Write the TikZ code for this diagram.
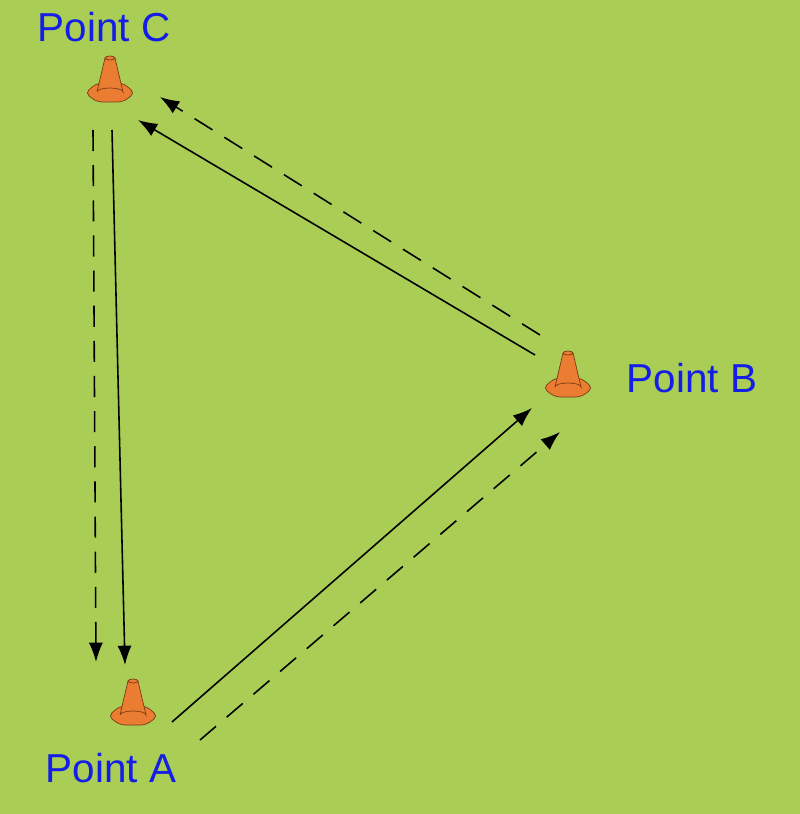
\documentclass[tikz,border=0pt]{standalone}
\usepackage{fontspec}
\setmainfont{Liberation Sans}
\usetikzlibrary{arrows.meta}
\definecolor{grass}{RGB}{170,205,85}
\definecolor{conefill}{RGB}{235,125,50}
\definecolor{coneline}{RGB}{120,60,20}
\definecolor{labelblue}{RGB}{20,30,230}
\tikzset{
  label/.style={text=labelblue, font=\fontsize{23}{27}\selectfont},
  run/.style={-{Latex[length=11pt, width=8pt]}, line width=0.9pt},
  cone/.pic={
    \draw[coneline, fill=conefill, rounded corners=3] (-25,8)--(-13,-2)--(13,-2)--(25,8)--(13,17)--(-13,17)--cycle;
    \draw[coneline, fill=conefill] (-13,7)--(-5,-27)--(5,-27)--(13,7) arc[start angle=0, end angle=-180, x radius=13, y radius=4];
    \draw[coneline, fill=conefill] (0,-27) ellipse[x radius=5, y radius=2];
  }
}
\begin{document}
\begin{tikzpicture}[x=0.02cm, y=-0.02cm]
\fill[grass] (0,0) rectangle (800,814);

% cones
\pic at (110,85) {cone};
\pic at (568,380) {cone};
\pic at (133,708) {cone};

\node[label] (c) at (104,27) {Point C};
\node[label] (b) at (692,378) {Point B};
\node[label] (a) at (111,768) {Point A};

% C to A
\coordinate (ca1) at (112,130); \coordinate (ca2) at (125,665);
\coordinate (ca3) at (93,130);  \coordinate (ca4) at (96,662);
\draw[run] (ca1)--(ca2);
\draw[run, dash pattern=on 12pt off 8pt] (ca3)--(ca4);

% B to C
\coordinate (bc1) at (535,355); \coordinate (bc2) at (138,120);
\coordinate (bc3) at (540,335); \coordinate (bc4) at (160,97);
\draw[run] (bc1)--(bc2);
\draw[run, dash pattern=on 12pt off 8pt] (bc3)--(bc4);

% A to B
\coordinate (ab1) at (172,722); \coordinate (ab2) at (532,408);
\coordinate (ab3) at (200,740); \coordinate (ab4) at (560,432);
\draw[run] (ab1)--(ab2);
\draw[run, dash pattern=on 12pt off 8pt] (ab3)--(ab4);

\end{tikzpicture}
\end{document}
